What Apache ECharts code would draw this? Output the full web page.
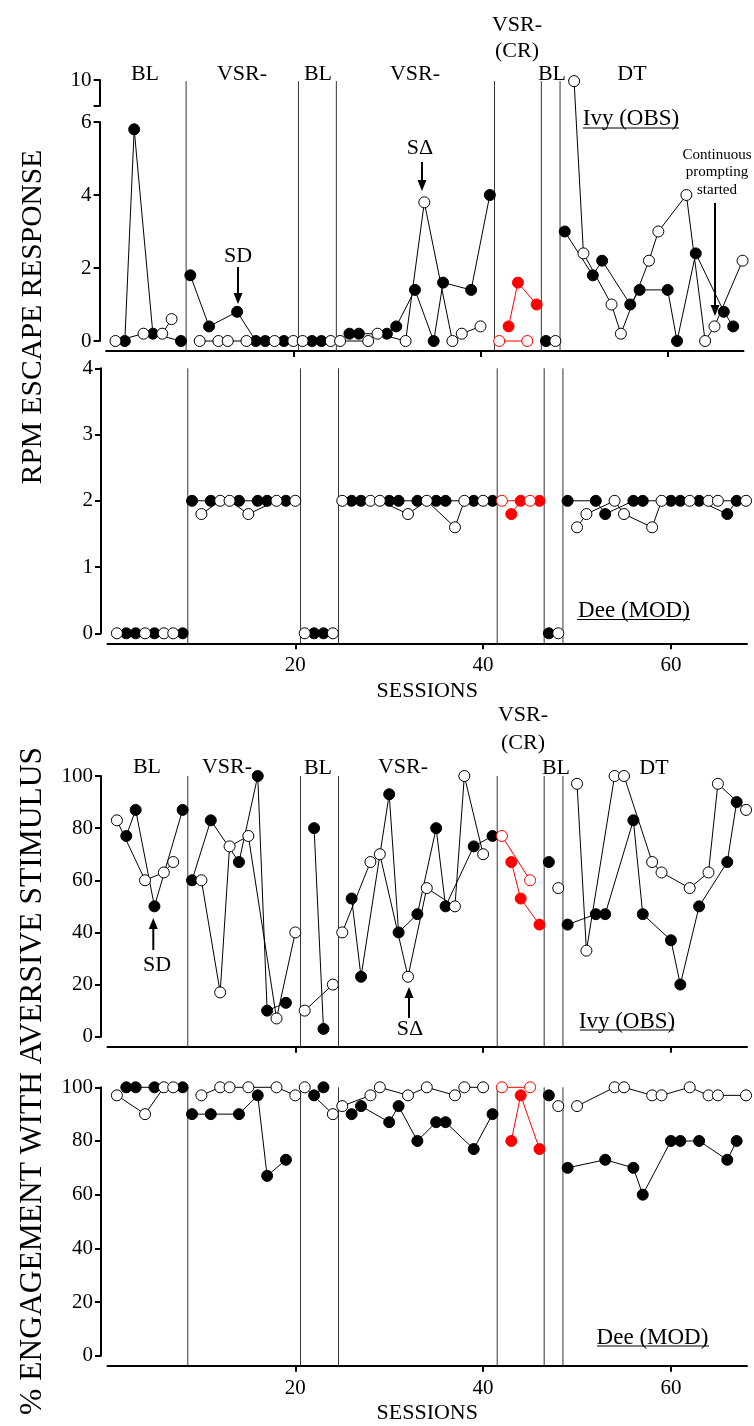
<!DOCTYPE html>
<html>
<head>
<meta charset="utf-8">
<script src="https://cdn.jsdelivr.net/npm/echarts@6/dist/echarts.min.js"></script>
<style>
  html, body { margin: 0; padding: 0; background: #fff; }
  #chart { width: 754px; height: 1426px; }
</style>
</head>
<body>
<div id="chart"></div>
<script>
// session ticks + phase change lines (between sessions)
const sessionTicks = [20, 40, 60];
const phaseChanges = [8.55, 20.55, 24.6, 41.5, 46.5, 48.5];

// null = break between phases
// Ivy RPM escape responses
const ivyRpmFilled = [[2, 0], [3, 5.8], [5, 0.2], [8, 0], null,
  [9, 1.8], [11, 0.4], [14, 0.8], [16, 0], [17, 0], [19, 0], null,
  [22, 0], [23, 0], null,
  [26, 0.2], [27, 0.2], [30, 0.2], [31, 0.4], [33, 1.4], [35, 0], [36, 1.6], [39, 1.4], [41, 4.0], null,
  [47, 0], null,
  [49, 3.0], [52, 1.8], [53, 2.2], [56, 1.0], [57, 1.4], [60, 1.4], [61, 0], [63, 2.4], [66, 0.8], [67, 0.4]];
const ivyRpmOpen = [[1, 0], [4, 0.2], [6, 0.2], [7, 0.6], null,
  [10, 0], [12, 0], [13, 0], [15, 0], [18, 0], [20, 0], null,
  [21, 0], [24, 0], null,
  [25, 0], [28, 0], [29, 0.2], [32, 0], [34, 3.8], [37, 0], [38, 0.2], [40, 0.4], null,
  [48, 0], null,
  [50, 10], [51, 2.4], [54, 1.0], [55, 0.2], [58, 2.2], [59, 3.0], [62, 4.0], [64, 0], [65, 0.4], [68, 2.2]];
const ivyRpmCrFilled = [[43, 0.4], [44, 1.6], [46, 1.0]];
const ivyRpmCrOpen = [[42, 0], [45, 0]];

// Dee RPM escape responses
const deeRpmFilled = [[2, 0], [3, 0], [5, 0], [8, 0], null,
  [9, 2], [11, 2], [14, 2], [16, 2], [17, 2], [19, 2], null,
  [22, 0], [23, 0], null,
  [26, 2], [27, 2], [30, 2], [31, 2], [33, 2], [35, 2], [36, 2], [39, 2], [41, 2], null,
  [47, 0], null,
  [49, 2], [52, 2], [53, 1.8], [56, 2], [57, 2], [60, 2], [61, 2], [63, 2], [66, 1.8], [67, 2]];
const deeRpmOpen = [[1, 0], [4, 0], [6, 0], [7, 0], null,
  [10, 1.8], [12, 2], [13, 2], [15, 1.8], [18, 2], [20, 2], null,
  [21, 0], [24, 0], null,
  [25, 2], [28, 2], [29, 2], [32, 1.8], [34, 2], [37, 1.6], [38, 2], [40, 2], null,
  [48, 0], null,
  [50, 1.6], [51, 1.8], [54, 2], [55, 1.8], [58, 1.6], [59, 2], [62, 2], [64, 2], [65, 2], [68, 2]];
const deeRpmCrFilled = [[43, 1.8], [44, 2], [46, 2]];
const deeRpmCrOpen = [[42, 2], [45, 2]];

// Ivy % engagement
const ivyEngFilled = [[2, 77], [3, 87], [5, 50], [8, 87], null,
  [9, 60], [11, 83], [14, 67], [16, 100], [17, 10], [19, 13], null,
  [22, 80], [23, 3], null,
  [26, 53], [27, 23], [30, 93], [31, 40], [33, 47], [35, 80], [36, 50], [39, 73], [41, 77], null,
  [47, 67], null,
  [49, 43], [52, 47], [53, 47], [56, 83], [57, 47], [60, 37], [61, 20], [63, 50], [66, 67], [67, 90]];
const ivyEngOpen = [[1, 83], [4, 60], [6, 63], [7, 67], null,
  [10, 60], [12, 17], [13, 73], [15, 77], [18, 7], [20, 40], null,
  [21, 10], [24, 20], null,
  [25, 40], [28, 67], [29, 70], [32, 23], [34, 57], [37, 50], [38, 100], [40, 70], null,
  [48, 57], null,
  [50, 97], [51, 33], [54, 100], [55, 100], [58, 67], [59, 63], [62, 57], [64, 63], [65, 97], [68, 87]];
const ivyEngCrFilled = [[43, 67], [44, 53], [46, 43]];
const ivyEngCrOpen = [[42, 77], [45, 60]];

// Dee % engagement
const deeEngFilled = [[2, 100], [3, 100], [5, 100], [8, 100], null,
  [9, 90], [11, 90], [14, 90], [16, 97], [17, 67], [19, 73], null,
  [22, 97], [23, 100], null,
  [26, 90], [27, 93], [30, 87], [31, 93], [33, 80], [35, 87], [36, 87], [39, 77], [41, 90], null,
  [47, 97], null,
  [49, 70], [53, 73], [56, 70], [57, 60], [60, 80], [61, 80], [63, 80], [66, 73], [67, 80]];
const deeEngOpen = [[1, 97], [4, 90], [6, 100], [7, 100], null,
  [10, 97], [12, 100], [13, 100], [15, 100], [18, 100], [20, 97], null,
  [21, 100], [24, 90], null,
  [25, 93], [28, 97], [29, 100], [32, 97], [34, 100], [37, 97], [38, 100], [40, 100], null,
  [48, 93], null,
  [50, 93], [54, 100], [55, 100], [58, 97], [59, 97], [62, 100], [64, 97], [65, 97], [68, 97]];
const deeEngCrFilled = [[43, 80], [44, 97], [46, 77]];
const deeEngCrOpen = [[42, 100], [45, 100]];

const FONT = '"Liberation Serif", "Times New Roman", serif';
const RED = '#ff0000';
const X_MAX = 68.1;
const AXIS_OFF = 10;

// the top panel has a broken y axis: 6 ... 10
const BREAK_AT = 6, BREAK_SCALE = 0.28;
const brk = v => (v > BREAK_AT ? BREAK_AT + (v - BREAK_AT) * BREAK_SCALE : v);

const panels = [
  { left: 106.1, top: 122, width: 637.4, height: 219, max: 6, interval: 2, labels: false, top10: brk(10) },
  { left: 107.5, top: 368.3, width: 639.5, height: 265, max: 4, interval: 1, labels: true },
  { left: 107.5, top: 776, width: 639.5, height: 260.7, max: 100, interval: 20, labels: false },
  { left: 107.5, top: 1087.3, width: 639.5, height: 268.4, max: 100, interval: 20, labels: true },
];

const toData = (arr, f) => arr.map(p => (p ? [p[0], f ? f(p[1]) : p[1]] : ['-', '-']));

const grid = panels.map(p => ({ left: p.left, top: p.top, width: p.width, height: p.height }));
// little grid only for the "10" part of the broken axis
grid.push({ left: 106.1, top: 80, width: 637.4, height: 26 });

const xAxis = panels.map((p, i) => ({
  gridIndex: i, type: 'value', min: 0, max: X_MAX, offset: AXIS_OFF,
  axisLine: { show: true, onZero: false, lineStyle: { color: '#000', width: 2 } },
  axisTick: { show: true, customValues: sessionTicks, length: 6, lineStyle: { color: '#000', width: 2 } },
  axisLabel: { show: p.labels, customValues: sessionTicks, color: '#000', fontFamily: FONT, fontSize: 21, margin: 12 },
  splitLine: { show: false },
  name: p.labels ? 'SESSIONS' : '', nameLocation: 'middle', nameGap: 37,
  nameTextStyle: { color: '#000', fontFamily: FONT, fontSize: 22 },
}));
xAxis.push({ gridIndex: 4, type: 'value', min: 0, max: X_MAX, show: false });

const yAxis = panels.map((p, i) => ({
  gridIndex: i, type: 'value', min: 0, max: p.max, interval: p.interval, offset: 6.5,
  axisLine: { show: true, onZero: false, lineStyle: { color: '#000', width: 2 } },
  axisTick: { show: true, length: 6, lineStyle: { color: '#000', width: 2 } },
  axisLabel: { color: '#000', fontFamily: FONT, fontSize: 21, margin: 8 },
  splitLine: { show: false },
}));
yAxis.push({
  gridIndex: 4, type: 'value', min: 9, max: 10, offset: 6.5,
  axisLine: { show: true, onZero: false, lineStyle: { color: '#000', width: 2 } },
  axisTick: { show: true, length: 6, customValues: [9, 10], lineStyle: { color: '#000', width: 2 } },
  axisLabel: { customValues: [10], color: '#000', fontFamily: FONT, fontSize: 21, margin: 8 },
  splitLine: { show: false },
});

function marks(name, arr, gi, filled, color, f) {
  return {
    type: 'line', name, xAxisIndex: gi, yAxisIndex: gi, data: toData(arr, f),
    symbol: 'circle', symbolSize: 11, clip: false, silent: true, z: 3,
    lineStyle: { color, width: 1 },
    itemStyle: filled ? { color, borderColor: color, borderWidth: 1 }
                      : { color: '#fff', borderColor: color, borderWidth: 1 },
  };
}

function phaseLines(gi) {
  const p = panels[gi];
  const lo = -AXIS_OFF * p.max / p.height;
  const hi = p.top10 !== undefined ? p.top10 : p.max;
  const data = [];
  phaseChanges.forEach(x => { data.push([x, lo], [x, hi], ['-', '-']); });
  return {
    type: 'line', xAxisIndex: gi, yAxisIndex: gi, data, symbol: 'none', clip: false,
    silent: true, z: 1, lineStyle: { color: '#333', width: 1 },
  };
}

const series = [
  phaseLines(0), phaseLines(1), phaseLines(2), phaseLines(3),
  marks('Ivy SD', ivyRpmFilled, 0, true, '#000', brk),
  marks('Ivy SΔ', ivyRpmOpen, 0, false, '#000', brk),
  marks('Ivy CR SD', ivyRpmCrFilled, 0, true, RED, brk),
  marks('Ivy CR SΔ', ivyRpmCrOpen, 0, false, RED, brk),
  marks('Dee SD', deeRpmFilled, 1, true, '#000'),
  marks('Dee SΔ', deeRpmOpen, 1, false, '#000'),
  marks('Dee CR SD', deeRpmCrFilled, 1, true, RED),
  marks('Dee CR SΔ', deeRpmCrOpen, 1, false, RED),
  marks('Ivy eng SD', ivyEngFilled, 2, true, '#000'),
  marks('Ivy eng SΔ', ivyEngOpen, 2, false, '#000'),
  marks('Ivy eng CR SD', ivyEngCrFilled, 2, true, RED),
  marks('Ivy eng CR SΔ', ivyEngCrOpen, 2, false, RED),
  marks('Dee eng SD', deeEngFilled, 3, true, '#000'),
  marks('Dee eng SΔ', deeEngOpen, 3, false, '#000'),
  marks('Dee eng CR SD', deeEngCrFilled, 3, true, RED),
  marks('Dee eng CR SΔ', deeEngCrOpen, 3, false, RED),
];

// annotations
function txt(text, x, y, size, extra) {
  return Object.assign({
    type: 'text', x, y, silent: true,
    style: { text, font: (size || 22) + 'px ' + FONT, textAlign: 'center', textVerticalAlign: 'middle', fill: '#000' },
  }, extra || {});
}
function hline(x1, x2, y) {
  return { type: 'line', silent: true, shape: { x1, y1: y, x2, y2: y }, style: { stroke: '#000', lineWidth: 1.2 } };
}
function arrow(x, from, to) {
  const d = to > from ? 1 : -1;
  return [
    { type: 'line', silent: true, shape: { x1: x, y1: from, x2: x, y2: to - d * 8 }, style: { stroke: '#000', lineWidth: 2 } },
    { type: 'polygon', silent: true, shape: { points: [[x - 4.5, to - d * 11], [x + 4.5, to - d * 11], [x, to]] }, style: { fill: '#000' } },
  ];
}

const graphic = [
  // top panel phase names
  txt('BL', 145, 74), txt('VSR-', 242, 74), txt('BL', 318, 74), txt('VSR-', 415, 74),
  txt('VSR-', 517, 25), txt('(CR)', 517, 51), txt('BL', 552, 74), txt('DT', 632, 74),
  txt('Ivy (OBS)', 631, 119, 23), hline(583, 679, 128),
  txt('SD', 238, 256), ...arrow(238, 267, 304),
  txt('SΔ', 420, 148), ...arrow(422, 162, 191),
  txt('Continuous', 717, 155, 15), txt('prompting', 717, 172.5, 15), txt('started', 717, 190, 15),
  ...arrow(715, 203, 316),
  txt('Dee (MOD)', 634, 611, 23), hline(577, 690, 619.5),
  // lower half
  txt('BL', 147, 767), txt('VSR-', 227, 767), txt('BL', 318, 768), txt('VSR-', 403, 767),
  txt('VSR-', 523, 715), txt('(CR)', 523, 743), txt('BL', 556, 768), txt('DT', 654, 768),
  txt('Ivy (OBS)', 627, 1021.5, 23), hline(580, 674, 1030),
  txt('SD', 157, 965), ...arrow(153.3, 950, 918),
  txt('SΔ', 410, 1029), ...arrow(409, 1018, 987),
  txt('Dee (MOD)', 652.5, 1338, 23), hline(597, 709, 1346),
  // y titles
  txt('RPM ESCAPE RESPONSE', 33, 317, 29.5, { rotation: Math.PI / 2 }),
  txt('% ENGAGEMENT WITH AVERSIVE STIMULUS', 33, 1081, 31.5, { rotation: Math.PI / 2 }),
];

const chart = echarts.init(document.getElementById('chart'), null, { renderer: 'canvas' });
chart.setOption({
  backgroundColor: '#fff',
  animation: false,
  grid, xAxis, yAxis, series, graphic,
});
</script>
</body>
</html>
